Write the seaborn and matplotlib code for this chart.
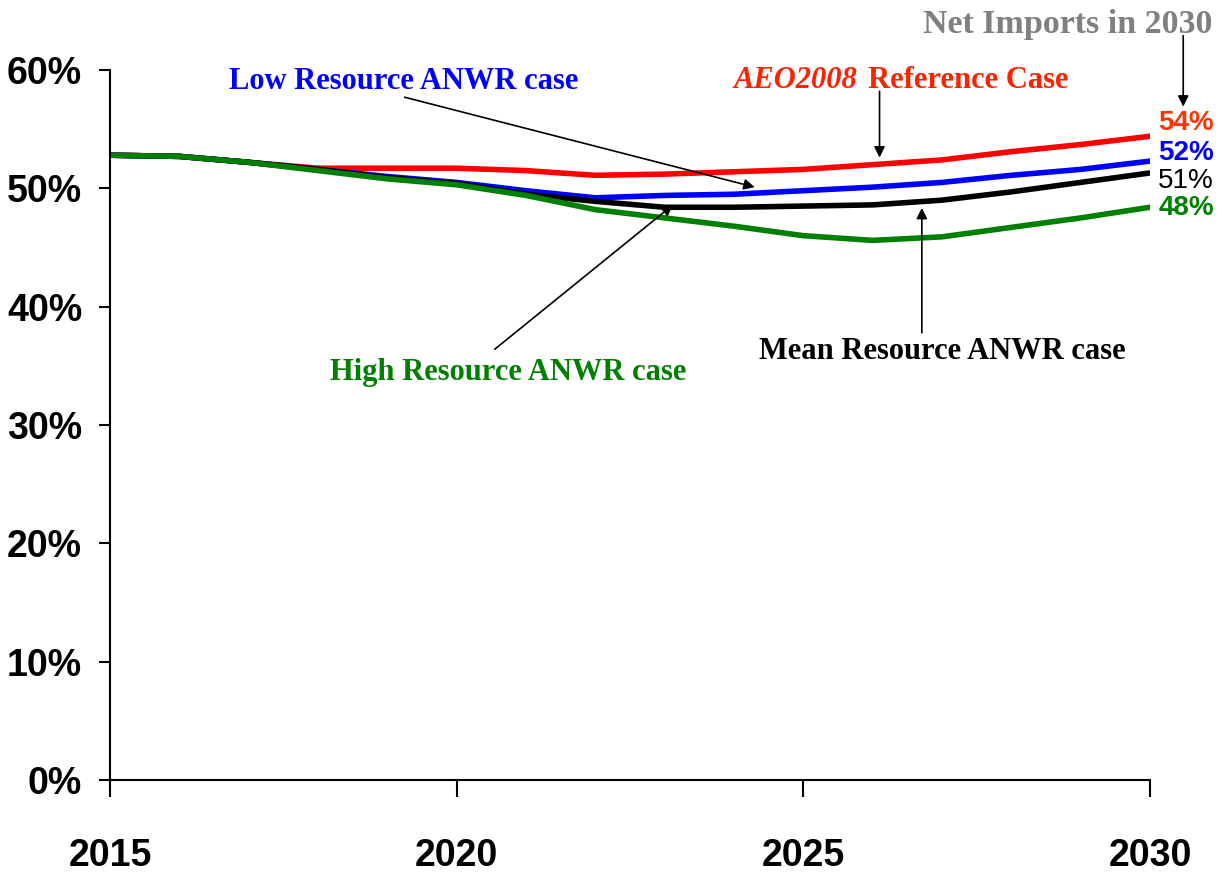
import matplotlib
matplotlib.use("Agg")
import matplotlib.pyplot as plt
import pandas as pd
import seaborn as sns

years = list(range(2015, 2031))
reference = [52.8, 52.7, 52.2, 51.7, 51.7, 51.7, 51.5, 51.1, 51.2, 51.4, 51.6, 52.0, 52.4, 53.1, 53.7, 54.4]
low_res = [52.8, 52.7, 52.2, 51.6, 51.0, 50.5, 49.8, 49.2, 49.4, 49.5, 49.8, 50.1, 50.5, 51.1, 51.6, 52.3]
mean_res = [52.8, 52.7, 52.2, 51.6, 50.9, 50.4, 49.5, 48.9, 48.4, 48.4, 48.5, 48.6, 49.0, 49.7, 50.5, 51.3]
high_res = [52.8, 52.7, 52.2, 51.5, 50.8, 50.3, 49.4, 48.2, 47.5, 46.8, 46.0, 45.6, 45.9, 46.7, 47.5, 48.4]
case_names = ["Reference", "Low", "Mean", "High"]
end_labels = ["54%", "52%", "51%", "48%"]
colors = {"Reference": "#ff0000", "Low": "#0000ff", "Mean": "#000000", "High": "#008000"}

df = pd.DataFrame({
    "year": years * 4,
    "share": reference + low_res + mean_res + high_res,
    "case": sum([[c] * len(years) for c in case_names], []),
})

sns.set_style("white")
plt.rcParams["font.family"] = ["Liberation Sans", "DejaVu Sans"]
plt.rcParams["text.color"] = "black"
plt.rcParams["xtick.color"] = "black"
plt.rcParams["ytick.color"] = "black"

fig = plt.figure(figsize=(12.27, 8.75), dpi=100)
ax = fig.add_axes([0.0896, 0.1086, 0.8476, 0.8114])
sns.lineplot(data=df, x="year", y="share", hue="case", palette=colors,
             hue_order=case_names, linewidth=4, legend=False, ax=ax)

ax.set_xlim(2015, 2030)
ax.set_ylim(0, 60)
ax.set_xticks([2015, 2020, 2025, 2030])
ax.set_yticks(range(0, 61, 10))
ax.set_yticklabels([f"{v}%" for v in range(0, 61, 10)])
ax.set_xlabel("")
ax.set_ylabel("")
for s in ["top", "right"]:
    ax.spines[s].set_visible(False)
for s in ["left", "bottom"]:
    ax.spines[s].set_color("black")
    ax.spines[s].set_linewidth(1.5)
ax.tick_params(axis="y", left=True, direction="out", length=8, width=1.5, pad=12, labelsize=27)
ax.tick_params(axis="x", bottom=True, direction="out", length=12, width=1.5, pad=30, labelsize=27)
for lab in ax.get_xticklabels() + ax.get_yticklabels():
    lab.set_fontweight("bold")

# end-of-line percentages
end_colors = ["#ff3300", "#0000ff", "#000000", "#008000"]
end_y = [55.5, 53.0, 50.6, 48.3]
end_weight = ["bold", "bold", "normal", "bold"]
for lab, c, y, w in zip(end_labels, end_colors, end_y, end_weight):
    ax.text(2030.12, y, lab, color=c, fontsize=20, fontweight=w, va="center", ha="left",
            clip_on=False)

serif = ["Liberation Serif", "DejaVu Serif"]
fs = 22
arrow = dict(arrowstyle="-|>", color="black", lw=1.2, mutation_scale=16, shrinkA=0, shrinkB=0)


def pointer(start, end):
    ax.annotate("", xy=end, xytext=start, arrowprops=arrow, annotation_clip=False)


ax.text(2019.23, 59.0, "Low Resource ANWR case", color="#0000ff", fontsize=fs,
        fontweight="bold", family=serif, ha="center", va="center")
pointer((2019.25, 57.7), (2024.3, 50.1))

ax.text(2025.78, 58.5, "AEO2008", color="#ff2200", fontsize=fs, fontweight="bold",
        fontstyle="italic", family=serif, ha="right", va="baseline")
ax.text(2025.93, 58.5, "Reference Case", color="#ff2200", fontsize=fs, fontweight="bold",
        family=serif, ha="left", va="baseline")
pointer((2026.1, 58.2), (2026.1, 52.6))

ax.text(2030.9, 63.1, "Net Imports in 2030", color="#808080", fontsize=24.5, fontweight="bold",
        family=serif, ha="right", va="baseline", clip_on=False)
pointer((2030.48, 62.9), (2030.48, 56.9))

ax.text(2020.74, 34.4, "High Resource ANWR case", color="#008000", fontsize=fs,
        fontweight="bold", family=serif, ha="center", va="center")
pointer((2020.55, 36.4), (2023.12, 48.6))

ax.text(2027.0, 36.2, "Mean Resource ANWR case", color="black", fontsize=fs,
        fontweight="bold", family=serif, ha="center", va="center")
pointer((2026.71, 37.8), (2026.71, 48.35))

fig.savefig("out.png", dpi=100, facecolor="white")
